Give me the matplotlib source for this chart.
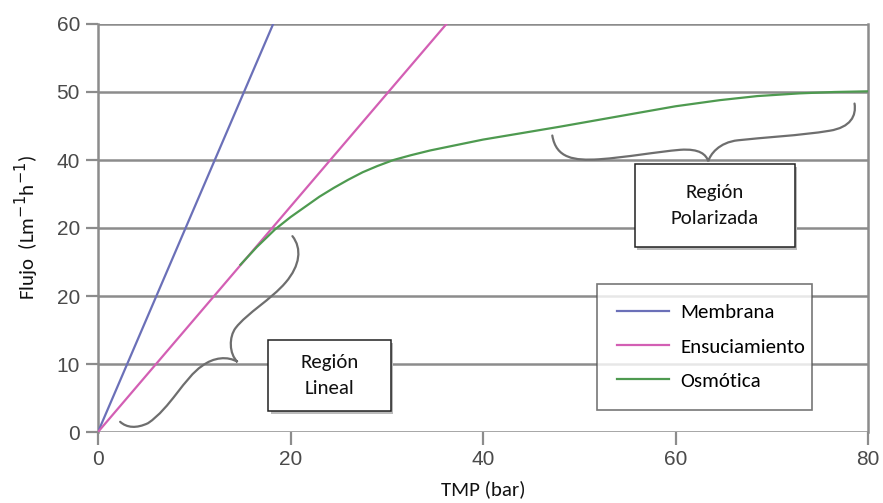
import matplotlib
matplotlib.use("Agg")
import matplotlib.pyplot as plt
from matplotlib.patches import Rectangle, PathPatch
from matplotlib.path import Path

# flux vs transmembrane pressure
membrana_x = [0, 18.2]
membrana_y = [0, 60]
ensuc_x = [0, 36.2]
ensuc_y = [0, 60]
osmo_x = [14.8, 16.5, 18.4, 20.0, 21.5, 23.0, 24.5, 26.0, 27.5, 29.0, 30.7, 32.5, 34.5, 36.9,
          40.0, 43.8, 48.0, 52.0, 56.0, 60.0, 64.6, 68.5, 72.9, 76.5, 80.0]
osmo_y = [24.6, 27.2, 29.8, 31.6, 33.1, 34.6, 35.9, 37.1, 38.2, 39.1, 40.0, 40.7, 41.4, 42.1,
          43.0, 43.9, 44.9, 45.9, 46.9, 47.9, 48.8, 49.4, 49.8, 50.0, 50.1]

x_ticks = [0, 20, 40, 60, 80]
y_ticks = [0, 10, 20, 30, 40, 50, 60]
y_labels = ["0", "10", "20", "20", "40", "50", "60"]

grid_c = "#8c8c8c"
tick_font = ["Liberation Sans Narrow", "Liberation Sans", "DejaVu Sans"]
text_font = ["Carlito", "Lato", "DejaVu Sans"]

fig = plt.figure(figsize=(8.83, 5.03), dpi=100)
ax = fig.add_axes([98 / 883, 1 - 432 / 503, 770 / 883, 408 / 503])

ax.set_xlim(0, 80)
ax.set_ylim(0, 60)
for y in y_ticks:
    ax.axhline(y, color=grid_c, lw=1.8, zorder=1)

ax.plot(membrana_x, membrana_y, color="#6b70b8", lw=1.6, label="Membrana", zorder=3)
ax.plot(ensuc_x, ensuc_y, color="#d35fb4", lw=1.6, label="Ensuciamiento", zorder=3)
ax.plot(osmo_x, osmo_y, color="#4e9a50", lw=1.6, label="Osmótica", zorder=4)

for s in ["top", "bottom"]:
    ax.spines[s].set_visible(False)
for s in ["left", "right"]:
    ax.spines[s].set_color(grid_c)
    ax.spines[s].set_linewidth(1.8)

ax.set_xticks(x_ticks)
ax.set_xticklabels([str(v) for v in x_ticks])
ax.set_yticks(y_ticks)
ax.set_yticklabels(y_labels)
ax.tick_params(axis="both", colors=grid_c, length=9, width=1.6, pad=4)
for lab in ax.get_xticklabels() + ax.get_yticklabels():
    lab.set_family(tick_font)
    lab.set_fontsize(15)
    lab.set_color("#4a4a4a")

ax.set_xlabel("TMP (bar)", family=text_font, fontsize=15, color="#111111", labelpad=8)
ax.set_ylabel("Flujo  (Lm$^{-1}$h$^{-1}$)", family=text_font, fontsize=15,
              color="#111111", labelpad=11)

# curly braces
def brace(verts):
    codes = [Path.MOVETO] + [Path.CURVE4] * (len(verts) - 1)
    return PathPatch(Path(verts, codes), fill=False, edgecolor="#6e6e6e", lw=1.6,
                     zorder=2, capstyle="round")

ax.add_patch(brace([
    (47.2, 43.6),
    (47.6, 40.2), (49.5, 39.9), (52.0, 40.1),
    (55.0, 40.4), (58.0, 41.2), (60.5, 41.5),
    (62.5, 41.7), (63.2, 40.8), (63.4, 39.8),
    (63.6, 40.8), (64.5, 42.6), (66.5, 42.9),
    (69.0, 43.3), (73.0, 43.6), (76.0, 44.3),
    (78.2, 44.8), (78.8, 46.5), (78.6, 48.3),
]))
ax.add_patch(brace([
    (2.3, 1.5),
    (3.0, 0.6), (4.0, 0.5), (5.2, 1.3),
    (7.5, 3.5), (9.0, 8.0), (10.8, 9.7),
    (12.0, 11.0), (13.5, 11.2), (14.5, 10.3),
    (13.6, 11.5), (13.6, 14.0), (14.3, 15.3),
    (15.5, 17.5), (18.0, 19.5), (19.5, 22.0),
    (21.0, 24.5), (21.2, 27.0), (20.2, 28.8),
]))

# annotation boxes
for (x0, y0, w, h, txt) in [(17.7, 3.1, 12.7, 10.4, "Región\nLineal"),
                            (55.8, 27.2, 16.6, 12.2, "Región\nPolarizada")]:
    ax.add_patch(Rectangle((x0 + 0.25, y0 - 0.4), w, h, facecolor="#bbbbbb",
                           edgecolor="none", zorder=5))
    ax.add_patch(Rectangle((x0, y0), w, h, facecolor="white", edgecolor="#222222",
                           lw=1.1, zorder=6))
    ax.text(x0 + w / 2, y0 + h / 2, txt, ha="center", va="center", family=text_font,
            fontsize=15, color="#111111", linespacing=1.6, zorder=7)

leg = ax.legend(loc="upper left", bbox_to_anchor=(0.648, 0.069, 0.279, 0.294),
                mode="expand", fancybox=False, shadow=False, frameon=True,
                prop={"family": text_font, "size": 15}, handlelength=2.5,
                handletextpad=0.55, labelspacing=0.8, borderpad=0.95,
                borderaxespad=0)
leg.get_frame().set_edgecolor("#555555")
leg.get_frame().set_linewidth(1.2)
leg.set_zorder(8)

fig.savefig("out.png", dpi=100)
